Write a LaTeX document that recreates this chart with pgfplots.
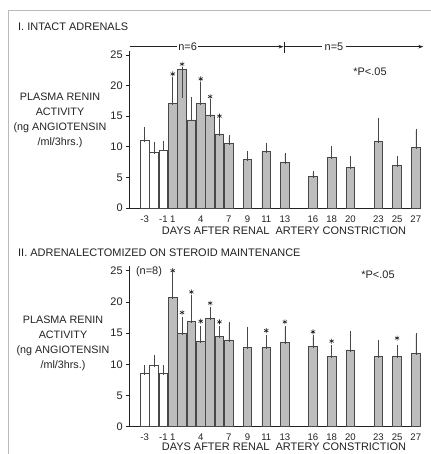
\documentclass[border=0pt]{standalone}
\usepackage{fontspec}
\setmainfont{Liberation Sans}
\usepackage{pgfplots}
\pgfplotsset{compat=1.18}
\usepackage{pgfplotstable}
\usetikzlibrary{arrows.meta}

\definecolor{barfill}{HTML}{BDBDBD}
\definecolor{edge}{HTML}{484848}
\definecolor{ink}{HTML}{222222}

% x coordinate c: day -3,-2,-1 -> -2,-1,0 ; day d>=1 -> d
\pgfplotstableread{
c v ep em
-2 11.1 1.9 0
-1 9.1 1.5 0
0 9.5 1.25 0
}\topwhite
\pgfplotstableread{
c v ep em
1 17.1 4.1 0
2 22.7 0 4.4
3 14.4 3.5 0
4 17.1 3.3 0
5 15.2 2.3 0
6 12.1 2.1 0
7 10.6 1.0 0
9 8.0 1.0 0
11 9.2 1.2 0
13 7.4 1.4 0
16 5.1 0.65 0
18 8.3 1.6 0
20 6.6 1.6 0
23 10.9 3.5 0
25 6.9 1.4 0
27 9.9 2.8 0
}\topgray
\pgfplotstableread{
c s
1 21.9
2 23.5
4 21.1
5 18.2
6 15.0
}\topstars
\pgfplotstableread{
c v ep em
-2 8.55 1.05 0
-1 9.9 1.4 0
0 8.55 1.05 0
}\botwhite
\pgfplotstableread{
c v ep em
1 20.7 3.7 0
2 15.0 2.4 0
3 16.9 3.9 0
4 13.7 2.2 0
5 17.3 1.7 0
6 14.4 1.5 0
7 13.9 2.6 0
9 12.7 3.1 0
11 12.7 1.7 0
13 13.5 2.4 0
16 12.9 1.5 0
18 11.3 1.6 0
20 12.3 2.8 0
23 11.2 2.5 0
25 11.2 1.7 0
27 11.8 2.9 0
}\botgray
\pgfplotstableread{
c s
1 25.0
2 18.3
3 21.6
4 16.9
5 19.8
6 16.8
11 15.4
13 16.8
16 15.2
18 13.7
25 14.2
}\botstars

\pgfplotsset{
  prastyle/.style={
    x=9.35bp, xmin=-3.6, xmax=27.6, ymin=0, ymax=25.7,
    axis x line*=bottom, axis y line*=left,
    axis line style={ink, line width=0.7bp},
    xtick={-2,0,1,4,7,9,11,13,16,18,20,23,25,27},
    xticklabels={-3,-1,1,4,7,9,11,13,16,18,20,23,25,27},
    xtick style={draw=none},
    ytick={0,5,10,15,20,25},
    tick align=outside,
    ytick style={ink, line width=0.6bp},
    major tick length=3.5bp,
    /pgf/number format/assume math mode=true,
    yticklabel style={font=\fontsize{11}{13}\selectfont, text=ink},
    xticklabel style={font=\fontsize{9.6}{11}\selectfont, text=ink, anchor=base, yshift=-10.6bp},
    clip=false,
  },
  barwhite/.style={ybar, bar width=8.6bp, bar shift=0pt, fill=white, draw=edge, line width=0.7bp,
    error bars/.cd, y dir=both, y explicit,
    error bar style={edge, line width=0.6bp},
    error mark options={edge, mark size=1.6bp, line width=0.6bp}},
  bargray/.style={ybar, bar width=8.6bp, bar shift=0pt, fill=barfill, draw=edge, line width=0.7bp,
    error bars/.cd, y dir=both, y explicit,
    error bar style={edge, line width=0.6bp},
    error mark options={edge, mark size=1.6bp, line width=0.6bp}},
  stars/.style={only marks, mark=asterisk, mark size=2.5bp, mark options={ink, line width=0.6bp}},
}

\begin{document}
\begin{tikzpicture}
\useasboundingbox (0,0) rectangle (431bp,454bp);
\fill[white] (0,0) rectangle (431bp,454bp);
\draw[gray!55, line width=0.6bp] (8bp,0) -- (8bp,444bp) -- (431bp,444bp);

% ---------- Panel I ----------
\begin{axis}[prastyle, y=6.12bp, at={(129.7bp,246bp)}, anchor=south west]
\addplot[barwhite] table[x=c, y=v, y error plus=ep, y error minus=em] {\topwhite};
\addplot[bargray] table[x=c, y=v, y error plus=ep, y error minus=em] {\topgray};
\addplot[stars] table[x=c, y=s] {\topstars};
\draw[ink, line width=0.7bp, -{Stealth[length=5bp,width=3.5bp]}] (axis cs:-3.57,26.36) -- (axis cs:12.85,26.36);
\draw[ink, line width=0.9bp] (axis cs:13,25.3) -- (axis cs:13,27.1);
\draw[ink, line width=0.7bp, -{Stealth[length=5bp,width=3.5bp]}] (axis cs:13,26.36) -- (axis cs:27.8,26.36);
\node[fill=white, inner sep=1.5bp, text=ink, font=\fontsize{11}{13}\selectfont] at (axis cs:2.6,26.36) {n=6};
\node[fill=white, inner xsep=3bp, inner ysep=1.5bp, text=ink, font=\fontsize{11}{13}\selectfont] at (axis cs:18.25,26.36) {n=5};
\end{axis}

\node[anchor=west, text=ink, font=\fontsize{11}{13}\selectfont, inner sep=0] at (18bp,427.3bp) {I. INTACT ADRENALS};
\node[text=ink, font=\fontsize{11}{13}\selectfont] at (370bp,382.3bp) {*P<.05};
\node[text=ink, align=center, font=\fontsize{10.8}{15}\selectfont] at (60bp,333.5bp) {PLASMA RENIN\\ACTIVITY\\(ng ANGIOTENSIN\\/ml/3hrs.)};
\node[text=ink, font=\fontsize{11}{13}\selectfont] at (284bp,223.3bp) {DAYS AFTER RENAL\ \ ARTERY CONSTRICTION};

% ---------- Panel II ----------
\begin{axis}[prastyle, y=6.24bp, at={(129.7bp,27.3bp)}, anchor=south west]
\addplot[barwhite] table[x=c, y=v, y error plus=ep, y error minus=em] {\botwhite};
\addplot[bargray] table[x=c, y=v, y error plus=ep, y error minus=em] {\botgray};
\addplot[stars] table[x=c, y=s] {\botstars};
\end{axis}

\node[anchor=west, text=ink, font=\fontsize{11}{13}\selectfont, inner sep=0] at (18bp,201bp) {II. ADRENALECTOMIZED ON STEROID MAINTENANCE};
\node[text=ink, font=\fontsize{11}{13}\selectfont] at (149bp,182bp) {(n=8)};
\node[text=ink, font=\fontsize{11}{13}\selectfont] at (378bp,179bp) {*P<.05};
\node[text=ink, align=center, font=\fontsize{10.8}{15}\selectfont] at (63bp,111bp) {PLASMA RENIN\\ACTIVITY\\(ng ANGIOTENSIN\\/ml/3hrs.)};
\node[text=ink, font=\fontsize{11}{13}\selectfont] at (284bp,7.3bp) {DAYS AFTER RENAL\ \ ARTERY CONSTRICTION};
\end{tikzpicture}
\end{document}
